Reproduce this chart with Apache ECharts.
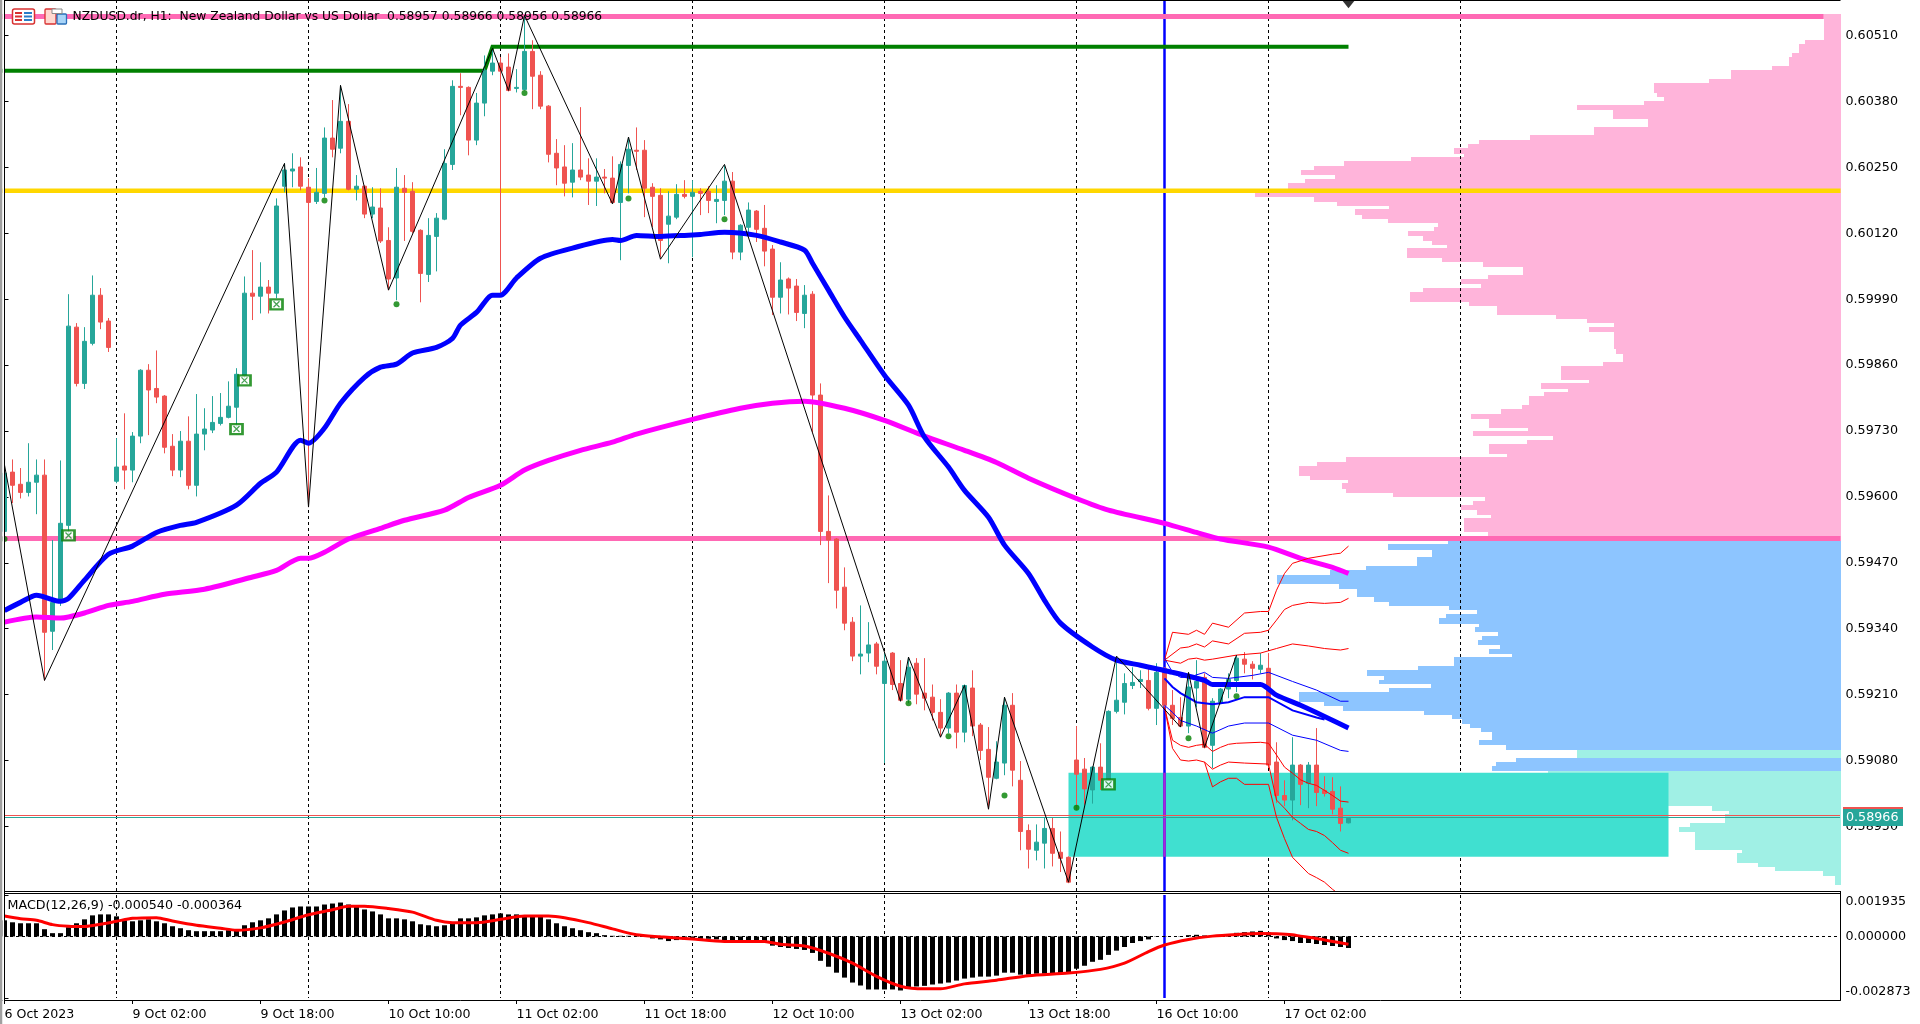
<!DOCTYPE html>
<html><head><meta charset="utf-8">
<style>html,body{margin:0;padding:0;background:#fff;overflow:hidden}#c{width:1920px;height:1024px}</style>
<script src="https://cdn.jsdelivr.net/npm/echarts@6/dist/echarts.min.js"></script>
</head><body><div id="c"></div>
<script>
// Prices below are in units of 0.00001 unless noted.
const tickLabels=['6 Oct 2023','9 Oct 02:00','9 Oct 18:00','10 Oct 10:00','11 Oct 02:00','11 Oct 18:00','12 Oct 10:00','13 Oct 02:00','13 Oct 18:00','16 Oct 10:00','17 Oct 02:00'];
const priceTicks=[0.58950,0.59080,0.59210,0.59340,0.59470,0.59600,0.59730,0.59860,0.59990,0.60120,0.60250,0.60380,0.60510];
const macdTicks=[-0.002873,0,0.001935];
const opens=[59532,59649,59625,59609,59629,59643,59335,59392,59544,59935,59824,59903,59998,59947,59631,59661,59653,59720,59850,59814,59799,59700,59653,59710,59623,59724,59732,59745,59757,59777,59840,60002,59996,60014,60002,60213,60243,60251,60211,60183,60199,60308,60288,60341,60207,60213,60158,60170,60106,60032,60209,60203,60126,60039,60114,60148,60256,60410,60408,60304,60377,60440,60456,60448,60406,60404,60479,60432,60371,60278,60251,60221,60245,60235,60223,60231,60229,60181,60254,60284,60284,60211,60195,60138,60152,60197,60193,60203,60203,60183,60185,60223,60083,60132,60164,60130,60089,59994,60030,60016,59962,60000,59801,59532,59517,59422,59353,59286,59292,59310,59232,59292,59232,59201,59272,59213,59205,59175,59144,59213,59136,59223,59150,59102,59045,59075,59189,59041,58942,58903,58917,58946,58899,58889,59081,59063,59022,59067,59041,59177,59195,59228,59236,59238,59183,59262,59189,59165,59148,59223,59244,59110,59195,59221,59238,59280,59270,59260,59262,59077,59011,59002,59071,59035,59071,59021,59019,58986,58957];
const closes=[59647,59623,59609,59629,59643,59333,59392,59548,59937,59824,59907,59998,59945,59895,59659,59653,59720,59850,59811,59797,59698,59653,59710,59623,59724,59734,59747,59757,59779,59842,60002,59996,60014,60002,60174,60245,60247,60213,60181,60201,60308,60286,60341,60207,60213,60158,60172,60105,60030,60211,60201,60124,60041,60116,60150,60258,60410,60408,60304,60377,60442,60456,60440,60402,60408,60479,60430,60371,60276,60249,60219,60245,60231,60223,60231,60229,60181,60256,60286,60282,60209,60193,60106,60154,60197,60193,60201,60199,60185,60187,60223,60083,60136,60166,60128,60085,59994,60028,60012,59964,59998,59801,59532,59515,59416,59351,59286,59290,59308,59266,59276,59230,59199,59264,59211,59203,59175,59144,59213,59136,59228,59148,59100,59047,59077,59189,59061,58940,58905,58919,58946,58897,58887,58840,59053,59024,59067,59041,59177,59199,59232,59234,59240,59183,59254,59189,59163,59148,59225,59236,59106,59197,59221,59240,59282,59270,59262,59268,59071,59011,59002,59071,59033,59071,59017,59015,58984,58956,58966];
const lows=[59515,59588,59597,59601,59566,59238,59298,59385,59524,59818,59813,59899,59931,59886,59627,59615,59629,59706,59722,59785,59686,59641,59639,59615,59601,59692,59726,59741,59755,59738,59834,59949,59962,59962,59992,60201,60211,60205,59580,60178,60191,60270,60278,60205,60185,60150,60150,60101,60008,59988,60105,60120,59984,60024,60045,60146,60245,60353,60274,60294,60351,60432,60002,60400,60398,60402,60365,60365,60260,60215,60193,60191,60225,60176,60174,60199,60179,60067,60199,60245,60152,60132,60073,60061,60148,60189,60073,60156,60160,60140,60156,60069,60067,60120,60103,60055,59959,59962,59960,59947,59933,59726,59505,59430,59380,59337,59276,59250,59274,59250,59075,59219,59197,59193,59191,59179,59159,59126,59134,59104,59116,59128,59081,58984,59043,59051,59029,58903,58867,58883,58867,58871,58860,58838,58982,58993,58995,59022,59039,59173,59171,59221,59223,59179,59150,59183,59150,59146,59134,59185,59104,59065,59191,59203,59215,59252,59240,59252,59065,58996,58990,58962,58992,58986,58990,59009,58974,58940,58956];
const highs=[59663,59674,59657,59706,59674,59674,59515,59672,60000,59943,59935,60037,60012,59953,59716,59765,59728,59852,59862,59889,59801,59724,59730,59759,59803,59775,59799,59805,59828,59854,60035,60087,60063,60028,60189,60258,60278,60270,60229,60249,60329,60383,60412,60375,60235,60215,60211,60209,60132,60249,60235,60221,60128,60150,60160,60286,60422,60436,60410,60397,60471,60481,60468,60475,60444,60550,60501,60440,60373,60306,60294,60298,60369,60268,60268,60247,60272,60262,60308,60329,60304,60219,60209,60203,60217,60225,60225,60209,60213,60215,60254,60241,60138,60181,60166,60176,60097,60063,60033,60030,60018,60006,59824,59603,59519,59461,59363,59386,59353,59314,59292,59294,59278,59284,59282,59282,59230,59201,59215,59230,59230,59258,59154,59146,59118,59205,59213,59079,58954,58954,58968,58968,58940,58891,59148,59085,59069,59114,59179,59284,59252,59264,59258,59262,59272,59264,59219,59205,59252,59278,59252,59203,59223,59252,59288,59294,59276,59292,59292,59116,59041,59126,59073,59077,59144,59049,59047,59029,58966];
// moving averages: bar index / price
const maFastX=[0,2,4,7,8,10,13,16,19,22,24,29,32,34,37,38,40,42,45,47,49,51,54,56,57,59,61,62,64,67,71,76,77,79,82,85,87,90,94,97,100,101,103,105,107,110,113,115,118,120,123,125,128,130,132,136,139,142,146,150,151,157,159,162,165,168];
const maFastY=[59376,59392,59406,59394,59400,59436,59487,59503,59530,59544,59550,59584,59627,59649,59712,59706,59736,59785,59836,59856,59862,59884,59895,59913,59939,59964,59998,59998,60032,60071,60091,60108,60106,60116,60114,60116,60118,60122,60116,60103,60087,60061,60008,59955,59909,59840,59781,59718,59659,59613,59560,59505,59449,59396,59351,59304,59278,59268,59254,59238,59230,59230,59209,59189,59167,59144];
const maSlowX=[0,4,7,10,13,16,20,25,31,34,37,38,40,43,47,50,55,58,62,65,68,72,76,79,86,92,96,100,105,110,115,120,124,128,134,138,145,149,152,158,162,166,168];
const maSlowY=[59353,59363,59361,59371,59386,59394,59408,59418,59442,59455,59479,59479,59491,59517,59538,59554,59574,59599,59623,59653,59672,59692,59708,59724,59753,59775,59785,59789,59775,59751,59720,59692,59668,59637,59597,59574,59548,59530,59517,59501,59479,59461,59449];
const zigzagX=[0,5,35,38,42,48,61,63,65,76,78,82,90,112,113,117,120,123,125,133,139,147,148,150,154];
const zigzagY=[59663,59238,60258,59580,60412,60008,60485,60402,60550,60178,60310,60069,60256,59197,59284,59126,59228,58984,59205,58840,59286,59146,59254,59106,59288];
// envelope lines from bar 145
const envA=[[145,59278],[146,59333],[148,59329],[149,59337],[150,59329],[151,59351],[153,59343],[155,59371],[157,59374],[158,59374],[159,59416],[160,59449],[161,59469],[163,59479],[166,59487],[167,59489],[168,59503]];
const envB=[[145,59278],[147,59302],[148,59304],[149,59310],[150,59304],[151,59316],[153,59310],[155,59331],[157,59333],[158,59337],[159,59357],[160,59378],[161,59386],[163,59392],[165,59390],[167,59392],[168,59400]];
const envC=[[145,59278],[147,59272],[148,59280],[149,59282],[150,59278],[151,59280],[154,59288],[157,59292],[159,59301],[161,59310],[163,59306],[165,59301],[167,59298],[168,59301]];
const envD=[[145,59282],[146,59254],[147,59244],[148,59244],[150,59254],[151,59244],[153,59242],[156,59248],[158,59254],[161,59236],[164,59219],[167,59197],[168,59197]];
const envE=[[145,59242],[146,59225],[147,59213],[149,59195],[151,59191],[153,59195],[155,59205],[158,59205],[161,59179],[164,59165],[165,59161]];
const envF=[[145,59189],[146,59175],[147,59159],[149,59148],[151,59134],[153,59148],[155,59154],[158,59154],[161,59130],[164,59120],[167,59100],[168,59098]];
const envG=[[145,59185],[146,59120],[147,59110],[148,59106],[149,59110],[150,59112],[151,59098],[152,59106],[153,59112],[154,59114],[157,59116],[158,59114],[159,59091],[160,59067],[161,59055],[162,59042],[163,59035],[164,59031],[165,59021],[166,59011],[167,59000],[168,58998]];
const envH=[[145,59185],[146,59104],[147,59081],[148,59079],[149,59081],[150,59077],[151,59063],[152,59071],[153,59077],[155,59075],[158,59073],[159,59002],[160,58986],[161,58968],[162,58956],[163,58944],[164,58940],[165,58932],[166,58918],[167,58903],[168,58897]];
const envK=[[150,59077],[151,59028],[152,59038],[153,59045],[154,59045],[155,59033],[158,59033],[159,58968],[160,58926],[161,58889],[163,58857],[164,58849],[165,58840],[166,58826],[167,58814]];
const dotsX=[0,40,49,65,78,90,113,118,125,134,148,154];
const dotsY=[59517,60185,59980,60397,60189,60148,59193,59128,59011,58987,59124,59207];
const boxX=[8,29,30,34,138];
const boxY=[59524,59734,59830,59980,59033];
const daySeparators=[14,38,62,86,110,134,158,182];
const cursorBar=145;
const levelTop=60548, levelMid=59518, levelGold=60204, levelGreenA=60441, levelGreenB=60488, bidLine=58967, askLine=58972;
const zoneStart=133, zoneEnd=208, zoneHigh=59056, zoneLow=58890;
// volume profile: price edges in 0.000001, volume per bin
const pinkEdges=[605528,605015,604936,604758,604679,604502,604423,604245,604167,603969,603890,603811,603726,603640,603456,603298,603141,603042,602963,602884,602766,602707,602628,602529,602450,602352,602273,602194,602075,601918,601819,601740,601681,601562,601483,601405,601326,601247,601148,601050,600971,600911,600714,600635,600537,600379,600300,600201,600122,600043,599846,599767,599590,599511,599432,599353,599254,598919,598821,598663,598584,598308,598249,598130,598071,597992,597815,597736,597637,597539,597361,597302,597203,597124,597045,596848,596789,596690,596611,596414,596335,596276,596157,596079,596000,595921,595842,595743,595645,595585,595309,595132];
const pinkVols=[16.3,35.5,42,48.6,51.4,68.6,109.4,131.4,186.5,183.3,176.3,196.3,263.3,227.3,192.2,246.5,310.6,361.2,372.2,386.5,376.3,429.4,496.3,526.5,539.6,505.3,535.5,552.2,585.3,526.5,503.3,451.4,485.3,478.4,452.2,402.4,406.1,432.2,417.6,408.6,393.5,433.5,398.4,357.6,317.6,352.2,380,359.6,417.6,430.6,371.4,343.3,284.5,253.5,226.5,251.4,226.5,224.5,217.6,237.6,279.6,251.4,299.6,272.2,296.3,311.4,318.4,339.6,369.4,351.4,312.2,367.3,287.3,313.5,351.4,333.5,494.3,523.3,541.2,530.6,492.2,498.4,494.3,447.3,355.5,367.3,380,363.3,349.4,376.3,352.2];
const blueEdges=[595132,595072,594954,594816,594638,594560,594461,594283,594185,594027,593928,593849,593770,593691,593613,593494,593435,593336,593257,593179,593080,593001,592902,592843,592666,592587,592468,592389,592310,592231,592152,591955,591876,591777,591699,591620,591521,591442,591363,591205,591107,591008];
const blueVols=[392.2,452.2,408.6,423.3,474.3,510.6,563.3,501.2,483.3,466.5,451.4,391.4,363.3,394.3,401.2,361.2,365.3,342.4,358.4,362.4,340.4,351.4,328.6,386.5,422.4,473.5,456.3,461.2,409.4,451.4,541.2,516.3,497.6,416.3,388.6,378.4,371,359.6,349,361.2,334.3];
const blueEdges2=[590850,590771,590692,590594];
const blueVols2=[324.5,344.5,348.6];
const aquaEdges1=[591008,590850];
const aquaVols1=[263.3];
const aquaEdges2=[590594,590416,590153,589903,589805,589745,589568,589489,589390,589035,588976,588779,588700,588621,588522,588345];
const aquaVols2=[292.2,266.5,193,128.6,111.4,115.5,150.6,161.2,145.3,98.4,103.3,82.4,65.3,17.6,5.3];
// MACD, units of 0.000001
const macdHist=[753,661,615,615,615,338,154,154,430,615,799,984,1030,1030,938,753,707,753,799,707,615,476,384,292,246,246,246,246,292,292,523,661,753,845,1030,1214,1353,1399,1399,1399,1491,1537,1583,1491,1399,1260,1168,1030,845,845,799,707,569,523,476,523,615,845,845,891,984,1030,1076,1030,1030,984,984,938,799,615,476,384,292,200,154,61,31,31,31,46,0,-92,-138,-215,-169,-138,-138,-108,-108,-138,-169,-169,-169,-169,-169,-246,-430,-492,-538,-584,-630,-769,-1137,-1414,-1691,-1921,-2152,-2290,-2475,-2475,-2475,-2475,-2521,-2428,-2336,-2306,-2244,-2198,-2152,-2060,-1967,-1921,-1875,-1875,-1829,-1691,-1691,-1783,-1783,-1737,-1737,-1737,-1737,-1706,-1506,-1368,-1183,-1091,-861,-661,-492,-307,-215,-138,-15,-15,0,15,61,77,46,15,61,108,169,200,231,261,184,-92,-169,-215,-307,-307,-353,-400,-446,-492,-540];
const signalX=[0,2,4,6,8,10,12,14,16,19,21,24,27,29,32,35,38,41,43,45,48,51,54,56,59,62,65,68,70,73,76,79,82,86,90,95,97,100,103,106,109,112,115,117,120,124,128,133,137,140,143,145,148,151,154,157,159,161,162,164,168];
const signalY=[953,830,753,553,476,461,569,707,845,876,722,523,384,292,400,676,1014,1245,1414,1414,1306,1137,753,645,645,799,953,953,876,645,354,77,-15,-123,-231,-231,-369,-446,-784,-1245,-1860,-2321,-2444,-2444,-2213,-2044,-1829,-1706,-1537,-1245,-707,-400,-138,15,92,138,123,77,15,-92,-364];

const barCount=230;
const lastTickBar=160;
const cats=[];for(let i=0;i<barCount;i++)cats.push(i%16===0&&i/16<tickLabels.length?tickLabels[i/16]:'');
const FONT='"DejaVu Sans"';
const P=v=>v/1e5, M=v=>v/1e6;
const zip=(xs,ys,f)=>xs.map((x,i)=>[x,f(ys[i])]);
const env=a=>a.map(d=>[d[0],P(d[1])]);
const bins=(edges,vols)=>vols.map((v,i)=>[v,edges[i]/1e6,edges[i+1]/1e6]);
const TEAL='#26a69a',RED='#ef5350';
const priceMax=0.605804,priceMin=0.588226;
const macdMax=0.001935,macdMin=-0.002873;
const tickFn=i=>i%16===0&&i<=lastTickBar;

function profileSeries(name,data,color,z){return{name,type:'custom',xAxisIndex:2,yAxisIndex:0,z,silent:true,clip:true,data,encode:{x:0,y:[1,2]},
  renderItem(p,api){const a=api.coord([api.value(0),api.value(1)]),b=api.coord([0,api.value(2)]);
    const y0=Math.round(a[1]),y1=Math.round(b[1]);
    return{type:'rect',shape:{x:Math.round(a[0]),y:y0,width:Math.round(b[0])-Math.round(a[0]),height:y1-y0},style:{fill:color}};}};}
function vlineSeries(name,bars,xIdx,yIdx,lo,hi,style,z){return{name,type:'custom',xAxisIndex:xIdx,yAxisIndex:yIdx,z,silent:true,clip:false,data:bars.map(b=>[b]),encode:{x:0},
  renderItem(p,api){const a=api.coord([api.value(0),hi]),b=api.coord([api.value(0),lo]);
    return{type:'line',shape:{x1:a[0],y1:a[1],x2:b[0],y2:b[1]},style};}};}
function hlineSeries(name,level,xIdx,yIdx,style,z){return{name,type:'custom',xAxisIndex:xIdx,yAxisIndex:yIdx,z,silent:true,clip:false,data:[[level]],encode:{y:0},
  renderItem(p,api){const a=api.coord([-0.5,api.value(0)]),b=api.coord([barCount-0.5,api.value(0)]);const y=Math.floor(a[1])+0.5;
    return{type:'line',shape:{x1:Math.floor(a[0])+4,y1:y,x2:Math.floor(b[0]),y2:y},style};}};}
function line(name,data,color,width,z,extra){return Object.assign({name,type:'line',xAxisIndex:1,yAxisIndex:0,data,symbol:'none',z,silent:true,animation:false,lineStyle:{color,width,cap:'butt',join:'miter'}},extra||{});}
const smooth={smooth:0.25};

const option={
  animation:false,backgroundColor:'#ffffff',textStyle:{fontFamily:FONT},
  grid:[{left:0.5,top:0,width:1840,height:891,containLabel:false},{left:0.5,top:895,width:1840,height:103}],
  xAxis:[
    {type:'category',gridIndex:0,data:cats,show:false,boundaryGap:true},
    {type:'value',gridIndex:0,min:-0.5,max:barCount-0.5,show:false},
    {type:'value',gridIndex:0,min:0,max:1840,inverse:true,show:false},
    {type:'category',gridIndex:1,data:cats,offset:2,boundaryGap:true,
      axisLine:{show:true,onZero:false,lineStyle:{color:'#000',width:1}},
      axisTick:{show:true,alignWithLabel:true,length:4,interval:tickFn,lineStyle:{color:'#000'}},
      axisLabel:{show:true,interval:tickFn,align:'left',margin:8,color:'#000',fontFamily:FONT,fontSize:12.6},splitLine:{show:false}},
    {type:'value',gridIndex:1,min:-0.5,max:barCount-0.5,show:false}
  ],
  yAxis:[
    {type:'value',gridIndex:0,position:'right',min:priceMin,max:priceMax,scale:true,splitLine:{show:false},
      axisLine:{show:true,lineStyle:{color:'#000',width:1}},
      axisTick:{show:true,length:4,customValues:priceTicks,lineStyle:{color:'#000'}},
      axisLabel:{customValues:priceTicks,margin:5,color:'#000',fontFamily:FONT,fontSize:12.7,formatter:v=>v.toFixed(5)}},
    {type:'value',gridIndex:1,position:'right',min:macdMin,max:macdMax,scale:true,splitLine:{show:false},
      axisLine:{show:true,lineStyle:{color:'#000',width:1}},
      axisTick:{show:true,length:4,customValues:macdTicks,lineStyle:{color:'#000'}},
      axisLabel:{customValues:macdTicks,margin:5,color:'#000',fontFamily:FONT,fontSize:12.7,verticalAlignMaxLabel:'top',verticalAlignMinLabel:'bottom',formatter:v=>v.toFixed(6)}}
  ],
  series:[
    profileSeries('profile pink',bins(pinkEdges,pinkVols),'#ffb4da',1),
    profileSeries('profile blue',bins(blueEdges,blueVols).concat(bins(blueEdges2,blueVols2)),'#8dc5ff',1),
    profileSeries('profile aqua',bins(aquaEdges1,aquaVols1).concat(bins(aquaEdges2,aquaVols2)),'#a0f0e5',1),
    vlineSeries('day separators',daySeparators,1,0,priceMin,priceMax,{stroke:'#000',lineWidth:1,lineDash:[3,3]},2),
    vlineSeries('day separators macd',daySeparators,4,1,macdMin,macdMax,{stroke:'#000',lineWidth:1,lineDash:[3,3]},2),
    {name:'zone',type:'custom',xAxisIndex:1,yAxisIndex:0,z:3,silent:true,data:[[zoneStart,zoneHigh/1e5,zoneEnd,zoneLow/1e5]],encode:{x:[0,2],y:[1,3]},
      renderItem(p,api){const a=api.coord([api.value(0),api.value(1)]),b=api.coord([api.value(2),api.value(3)]);
        return{type:'rect',shape:{x:a[0],y:a[1],width:b[0]-a[0],height:b[1]-a[1]},style:{fill:'#40e0d0'}};}},
    line('level top',[[-0.5,P(levelTop)],[227.4,P(levelTop)]],'#ff69b4',5,4),
    line('level mid',[[-0.5,P(levelMid)],[barCount-0.5,P(levelMid)]],'#ff69b4',5,4),
    line('level gold',[[-0.5,P(levelGold)],[barCount-0.5,P(levelGold)]],'#ffd700',4.5,4),
    line('level green',[[-0.5,P(levelGreenA)],[60,P(levelGreenA)],[61,P(levelGreenB)],[168,P(levelGreenB)]],'#008000',4,4),
    vlineSeries('cursor',[cursorBar],1,0,priceMin,priceMax,{stroke:'#0000ff',lineWidth:2.5},4),
    vlineSeries('cursor macd',[cursorBar],4,1,macdMin,macdMax,{stroke:'#0000ff',lineWidth:2.5},4),
    vlineSeries('cursor zone',[cursorBar],1,0,zoneLow/1e5,zoneHigh/1e5,{stroke:'#a828d8',lineWidth:2.5},4.5),
    {name:'NZDUSD',type:'candlestick',xAxisIndex:0,yAxisIndex:0,z:5,silent:true,barWidth:4,
      data:opens.map((o,i)=>[P(o),P(closes[i]),P(lows[i]),P(highs[i])]),
      itemStyle:{color:TEAL,color0:RED,borderColor:TEAL,borderColor0:RED,borderColorDoji:TEAL,borderWidth:1}},
    hlineSeries('ask',P(askLine),1,0,{stroke:RED,lineWidth:1},5.2),
    hlineSeries('bid',P(bidLine),1,0,{stroke:TEAL,lineWidth:1},5.2),
    line('MA slow',zip(maSlowX,maSlowY,P),'#ff00ff',5,6,smooth),
    line('MA fast',zip(maFastX,maFastY,P),'#0000ff',5,6.1,smooth),
    line('env A',env(envA),'#ff0000',1,6.2),line('env B',env(envB),'#ff0000',1,6.2),line('env C',env(envC),'#ff0000',1,6.2),
    line('env D',env(envD),'#0000ff',1,6.2),line('env E',env(envE),'#0000ff',2,6.2),line('env F',env(envF),'#0000ff',1,6.2),
    line('env G',env(envG),'#ff0000',1,6.2),line('env H',env(envH),'#ff0000',1,6.2),line('env K',env(envK),'#ff0000',1,6.2),
    line('zigzag',zip(zigzagX,zigzagY,P),'#000000',1,7),
    {name:'dots',type:'scatter',xAxisIndex:1,yAxisIndex:0,z:7.5,silent:true,symbol:'circle',symbolSize:6,data:zip(dotsX,dotsY,P),itemStyle:{color:'#008000'}},
    {name:'boxes',type:'scatter',xAxisIndex:1,yAxisIndex:0,z:7.6,silent:true,symbol:'rect',symbolSize:[12,10],data:zip(boxX,boxY,P),itemStyle:{color:'#ffffff',borderColor:'#008000',borderWidth:2.5}},
    {name:'box x',type:'scatter',xAxisIndex:1,yAxisIndex:0,z:7.7,silent:true,symbol:'path://M0 0L10 10M10 0L0 10',symbolSize:[6,6],data:zip(boxX,boxY,P),itemStyle:{color:'none',borderColor:'#1a8a2a',borderWidth:1.3}},
    {name:'marker',type:'scatter',xAxisIndex:1,yAxisIndex:0,z:8,silent:true,clip:true,symbol:'triangle',symbolRotate:180,symbolSize:[16,10],data:[[168,0.60574]],itemStyle:{color:'#000'}},
    {name:'MACD',type:'bar',xAxisIndex:3,yAxisIndex:1,z:5,silent:true,barWidth:5,data:macdHist.map(M),itemStyle:{color:'#000'}},
    {name:'Signal',type:'line',xAxisIndex:4,yAxisIndex:1,z:6,silent:true,symbol:'none',smooth:0.25,data:zip(signalX,signalY,M),lineStyle:{color:'#ff0000',width:3}},
    hlineSeries('zero',0,4,1,{stroke:'#000',lineWidth:1,lineDash:[3,3]},4)
  ],
  graphic:[
    {type:'rect',z:50,shape:{x:0,y:0,width:2.5,height:1024},style:{fill:'#a0a0a0'}},
    {type:'rect',z:50,shape:{x:2.5,y:0,width:1.5,height:1024},style:{fill:'#ffffff'}},
    {type:'rect',z:50,shape:{x:4,y:0,width:1,height:1000},style:{fill:'#000'}},
    {type:'rect',z:50,shape:{x:4,y:0,width:1836.5,height:1},style:{fill:'#000'}},
    {type:'rect',z:50,shape:{x:4,y:891,width:1836.5,height:1},style:{fill:'#000'}},
    {type:'rect',z:50,shape:{x:4,y:893,width:1836.5,height:1},style:{fill:'#000'}},
    {type:'rect',z:50,shape:{x:1840,y:891,width:1,height:109},style:{fill:'#000'}},
    // window icons
    {type:'rect',z:51,shape:{x:12.5,y:9,width:22,height:15,r:2},style:{fill:'#fff',stroke:'#d83030',lineWidth:1.5}},
    {type:'rect',z:51,shape:{x:15,y:12,width:7,height:2},style:{fill:'#d83030'}},
    {type:'rect',z:51,shape:{x:15,y:15.5,width:7,height:2},style:{fill:'#d83030'}},
    {type:'rect',z:51,shape:{x:15,y:19,width:7,height:2},style:{fill:'#d83030'}},
    {type:'rect',z:51,shape:{x:24,y:12,width:8,height:2},style:{fill:'#2a7fc8'}},
    {type:'rect',z:51,shape:{x:24,y:15.5,width:8,height:2},style:{fill:'#2a7fc8'}},
    {type:'rect',z:51,shape:{x:24,y:19,width:8,height:2},style:{fill:'#2a7fc8'}},
    {type:'rect',z:51,shape:{x:45,y:9,width:11,height:15,r:1},style:{fill:'#ffd8d0',stroke:'#d83030',lineWidth:1.3}},
    {type:'rect',z:51,shape:{x:57,y:14,width:9.5,height:10,r:1},style:{fill:'#a8d4f8',stroke:'#2a6fb8',lineWidth:1.3}},
    {type:'rect',z:51,shape:{x:52,y:9,width:10,height:4.5},style:{fill:'#fff',stroke:'#888',lineWidth:1}},
    // titles
    {type:'text',z:52,x:72.5,y:16.5,style:{text:'NZDUSD.dr, H1:  New Zealand Dollar vs US Dollar  0.58957 0.58966 0.58956 0.58966',fill:'#000',font:'12.3px '+FONT,textVerticalAlign:'middle'}},
    {type:'text',z:52,x:7.5,y:906,style:{text:'MACD(12,26,9) -0.000540 -0.000364',fill:'#000',font:'12.7px '+FONT,textVerticalAlign:'middle'}},
    // current price tag
    {type:'rect',z:53,shape:{x:1843,y:807,width:60,height:2},style:{fill:RED}},
    {type:'rect',z:53,shape:{x:1843,y:809,width:60,height:17},style:{fill:TEAL}},
    {type:'text',z:54,x:1846,y:817.5,style:{text:'0.58966',fill:'#fff',font:'12.7px '+FONT,textVerticalAlign:'middle'}}
  ]
};
const chart=echarts.init(document.getElementById('c'),null,{renderer:'canvas'});
chart.setOption(option);
</script></body></html>
